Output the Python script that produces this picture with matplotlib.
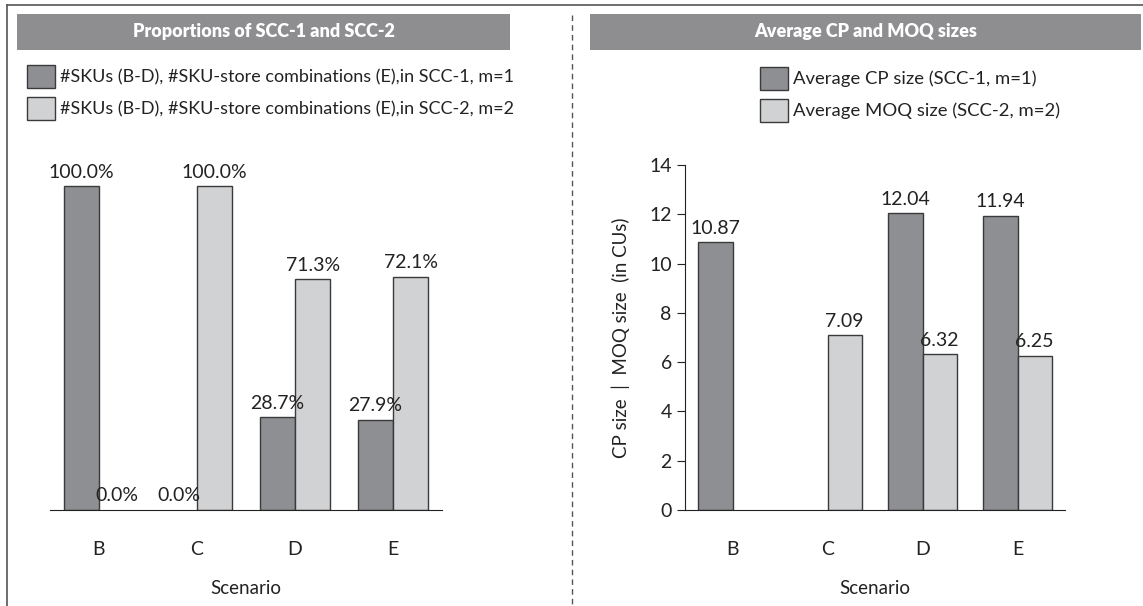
import matplotlib.pyplot as plt
import matplotlib.patches as mpatches
from matplotlib.lines import Line2D
import numpy as np

plt.rcParams['font.family'] = ['Lato', 'DejaVu Sans']

scenarios = ["B", "C", "D", "E"]
# left panel: share of SKUs in each SCC (percent)
scc1_share = [100.0, 0.0, 28.7, 27.9]
scc2_share = [0.0, 100.0, 71.3, 72.1]
# right panel: average sizes (in CUs)
cp_size = [10.87, 0.0, 12.04, 11.94]
moq_size = [0.0, 7.09, 6.32, 6.25]

left_legend = ["#SKUs (B-D), #SKU-store combinations (E),in SCC-1, m=1",
               "#SKUs (B-D), #SKU-store combinations (E),in SCC-2, m=2"]
right_legend = ["Average CP size (SCC-1, m=1)", "Average MOQ size (SCC-2, m=2)"]

DARK = "#8e8f93"
LIGHT = "#d1d2d4"
EDGE = "#3a3a3a"
BAR_GREY = "#8e8e91"
TXT = "#222222"
W, H = 1143, 606

fig = plt.figure(figsize=(11.43, 6.06), dpi=100)


def fx(px):
    return px / W


def fy(py):
    return 1 - py / H


# outer frame and dashed divider
fig.add_artist(Line2D([fx(7), 1], [fy(5), fy(5)], color="#555555", lw=1.2))
fig.add_artist(Line2D([fx(7), fx(7)], [fy(5), 0], color="#555555", lw=1.2))
fig.add_artist(Line2D([fx(572), fx(572)], [fy(15), 0], color="#555555", lw=1, ls=(0, (4, 3))))

# title bars
for x0, x1, title in [(17, 510, "Proportions of SCC-1 and SCC-2"),
                      (590, 1141, "Average CP and MOQ sizes")]:
    fig.add_artist(mpatches.Rectangle((fx(x0), fy(50)), fx(x1 - x0), (50 - 14) / H,
                                      facecolor=BAR_GREY, edgecolor="none"))
    fig.text(fx((x0 + x1) / 2), fy(32), title, color="white", fontsize=13,
             fontweight="heavy", ha="center", va="center")


# custom legends (squares + text)
def legend_rows(x_sq, y_tops, labels, size):
    for yt, lab, col in zip(y_tops, labels, [DARK, LIGHT]):
        fig.add_artist(mpatches.Rectangle((fx(x_sq), fy(yt + 23)), fx(28), 23 / H,
                                          facecolor=col, edgecolor=EDGE, lw=1))
        fig.text(fx(x_sq + 33), fy(yt + 12), lab, fontsize=size, ha="left", va="center",
                 color=TXT)


legend_rows(27, [65, 97], left_legend, 13)
legend_rows(760, [67, 99], right_legend, 13.3)

x = np.arange(len(scenarios))
bw = 0.36


def draw_bars(ax, vals, offset, color):
    vals = np.asarray(vals)
    # zero-height bars leave no visible outline in the reference
    edges = [EDGE if v > 0 else "none" for v in vals]
    return ax.bar(x + offset, vals, bw, color=color, edgecolor=edges, lw=1)


# left panel
ax1 = fig.add_axes([fx(50), fy(510), fx(392), 356 / H])
b1 = draw_bars(ax1, scc1_share, -bw / 2, DARK)
b2 = draw_bars(ax1, scc2_share, bw / 2, LIGHT)
for bars in (b1, b2):
    ax1.bar_label(bars, labels=[f"{v:.1f}%" for v in bars.datavalues], padding=4,
                  fontsize=14, color=TXT)
ax1.set_ylim(0, 110)
ax1.set_xlim(-0.5, 3.5)
ax1.set_yticks([])
for s in ["top", "right", "left"]:
    ax1.spines[s].set_visible(False)
ax1.spines["bottom"].set_color(TXT)
ax1.set_xticks(x)
ax1.set_xticklabels(scenarios, fontsize=14)
ax1.tick_params(axis="x", length=0, pad=22, colors=TXT)
ax1.set_xlabel("Scenario", fontsize=13.5, labelpad=16, color=TXT)

# right panel
ax2 = fig.add_axes([fx(685), fy(510), fx(380), 345 / H])
c1 = draw_bars(ax2, cp_size, -bw / 2, DARK)
c2 = draw_bars(ax2, moq_size, bw / 2, LIGHT)
for bars in (c1, c2):
    ax2.bar_label(bars, labels=[f"{v:.2f}" if v > 0 else "" for v in bars.datavalues],
                  padding=4, fontsize=14, color=TXT)
ax2.set_ylim(0, 14)
ax2.set_xlim(-0.5, 3.5)
ax2.set_yticks(range(0, 15, 2))
ax2.tick_params(axis="y", length=6, labelsize=14, colors=TXT)
for s in ["top", "right"]:
    ax2.spines[s].set_visible(False)
ax2.spines["bottom"].set_color(TXT)
ax2.spines["left"].set_color(TXT)
ax2.set_xticks(x)
ax2.set_xticklabels(scenarios, fontsize=14)
ax2.tick_params(axis="x", length=0, pad=22, colors=TXT)
ax2.set_xlabel("Scenario", fontsize=13.5, labelpad=16, color=TXT)
ax2.set_ylabel("CP size  |  MOQ size  (in CUs)", fontsize=13.5, labelpad=14, color=TXT)

fig.savefig("out.png", dpi=100)
